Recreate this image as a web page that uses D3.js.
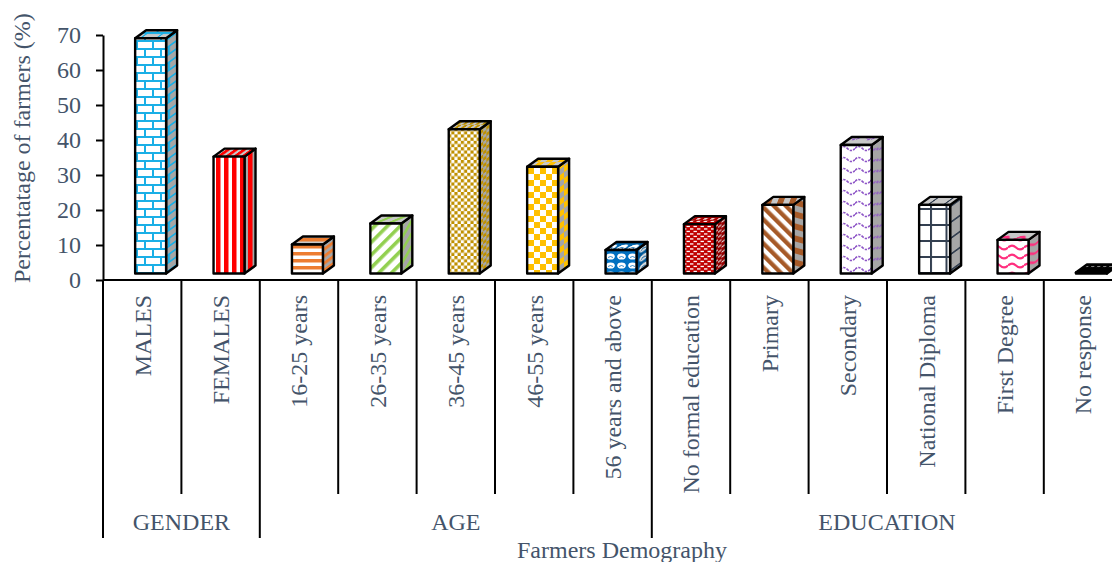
<!DOCTYPE html>
<html>
<head>
<meta charset="utf-8">
<script src="https://cdn.jsdelivr.net/npm/d3@7"></script>
<style>
  html, body { margin: 0; padding: 0; background: #fff; overflow: hidden; }
  svg { display: block; }
</style>
</head>
<body>
<svg id="chart" width="1112" height="562"></svg>
<script>
// ---- data ----
const categories = [
  "MALES", "FEMALES",
  "16-25 years", "26-35 years", "36-45 years", "46-55 years", "56 years and above",
  "No formal education", "Primary", "Secondary", "National Diploma", "First Degree", "No response"
];
const values = [67.2, 33.4, 8.3, 14.3, 41.2, 30.5, 6.7, 14.1, 19.6, 36.7, 19.6, 9.6, 0.3];
const groups = ["GENDER", "AGE", "EDUCATION"];
const groupSizes = [2, 5, 6];
const yTicks = [0, 10, 20, 30, 40, 50, 60, 70];
const yTitle = "Percentatage of farmers (%)";
const xTitle = "Farmers Demography";

// ---- fill styles, one per category ----
const fills = [
  { kind: "brick",      fg: "#1AAFE6", bg: "#ffffff" },
  { kind: "vstripes",   fg: "#FF0000", bg: "#ffffff" },
  { kind: "hstripes",   fg: "#ED7D31", bg: "#ffffff" },
  { kind: "updiag",     fg: "#92D050", bg: "#ffffff" },
  { kind: "checkSmall", fg: "#BF9000", bg: "#ffffff" },
  { kind: "checkLarge", fg: "#FFC000", bg: "#ffffff" },
  { kind: "sphere",     fg: "#ffffff", bg: "#0070C0" },
  { kind: "dashes",     fg: "#ffffff", bg: "#C00000" },
  { kind: "downdiag",   fg: "#A65A28", bg: "#ffffff" },
  { kind: "waveThin",   fg: "#8E56C7", bg: "#ffffff" },
  { kind: "grid",       fg: "#333F50", bg: "#ffffff" },
  { kind: "waveThick",  fg: "#FF2E7E", bg: "#ffffff" },
  { kind: "solid",      fg: "#000000", bg: "#000000" }
];

const FONT = "'Liberation Serif', 'Times New Roman', serif";
const TEXT = "#44546A";
const FS = 24;

const svg = d3.select("#chart");
const defs = svg.append("defs");

// ---- scales ----
const bandW = 78.4;
const x = d3.scaleBand().domain(categories).range([103, 103 + categories.length * bandW]).padding(0);
const y = d3.scaleLinear().domain([0, 70]).range([280, 35]);

// 3-D box geometry
const depthX = 11, depthY = 8, lift = 6.5;

// ---- pattern factory ----
function faceColors(f, face) {
  if (face === "front") return { fg: f.fg, bg: f.bg };
  const white = f.bg.toLowerCase() === "#ffffff";
  if (face === "side") {
    return { fg: white ? f.fg : d3.color(f.fg).darker(0.4).formatHex(),
             bg: white ? "#A6A6A6" : d3.color(f.bg).darker(0.7).formatHex() };
  }
  return { fg: f.fg, bg: white ? "#C8C8C8" : d3.color(f.bg).darker(0.3).formatHex() };
}

function makePattern(id, f, face) {
  const c = faceColors(f, face);
  const skew = face === "side" ? "skewY(-36) " : face === "top" ? "skewX(-54) " : "";
  let w = 8, h = 8, rot = "";
  const p = defs.append("pattern").attr("id", id).attr("patternUnits", "userSpaceOnUse");
  switch (f.kind) {
    case "brick": w = 16; h = 16; break;
    case "vstripes": w = 8; h = 8; break;
    case "hstripes": w = 7; h = 7; break;
    case "updiag": w = 9; h = 9; rot = "rotate(45)"; break;
    case "downdiag": w = 8.5; h = 8.5; rot = "rotate(-45)"; break;
    case "checkSmall": w = 6.4; h = 6.4; break;
    case "checkLarge": w = 12; h = 12; break;
    case "sphere": w = 11; h = 9; break;
    case "dashes": w = 7; h = 5; break;
    case "waveThin": w = 15; h = 11; break;
    case "waveThick": w = 16; h = 9; break;
    case "grid": w = 15.5; h = 16; break;
    default: w = 6; h = 6;
  }
  p.attr("width", w).attr("height", h);
  const tf = (skew + rot).trim();
  if (tf) p.attr("patternTransform", tf);
  p.append("rect").attr("width", w).attr("height", h).attr("fill", c.bg);
  switch (f.kind) {
    case "brick":
      p.append("path").attr("d", "M0 1H16M0 9H16M1 1V9M9 9V16")
        .attr("stroke", c.fg).attr("stroke-width", 2).attr("fill", "none");
      break;
    case "vstripes":
      p.append("rect").attr("x", 0).attr("width", 4.5).attr("height", h).attr("fill", c.fg);
      break;
    case "hstripes":
      p.append("rect").attr("y", 0).attr("width", w).attr("height", 3.5).attr("fill", c.fg);
      break;
    case "updiag":
      p.append("rect").attr("width", 3.6).attr("height", h).attr("fill", c.fg);
      break;
    case "downdiag":
      p.append("rect").attr("width", 4.3).attr("height", h).attr("fill", c.fg);
      break;
    case "checkSmall":
    case "checkLarge":
      p.append("rect").attr("width", w / 2).attr("height", h / 2).attr("fill", c.fg);
      p.append("rect").attr("x", w / 2).attr("y", h / 2).attr("width", w / 2).attr("height", h / 2).attr("fill", c.fg);
      break;
    case "sphere":
      p.append("ellipse").attr("cx", 5.5).attr("cy", 4.5).attr("rx", 4.3).attr("ry", 3.1).attr("fill", c.fg);
      p.append("path").attr("d", "M3 5.5 Q5.5 3.5 8 5.5")
        .attr("stroke", c.bg).attr("stroke-width", 0.8).attr("fill", "none");
      break;
    case "dashes":
      p.append("rect").attr("x", 0.5).attr("y", 0.8).attr("width", 3.4).attr("height", 1.3).attr("fill", c.fg);
      p.append("rect").attr("x", 4).attr("y", 3.3).attr("width", 3.4).attr("height", 1.3).attr("fill", c.fg);
      p.append("rect").attr("x", -3).attr("y", 3.3).attr("width", 3.4).attr("height", 1.3).attr("fill", c.fg);
      break;
    case "waveThin":
      p.append("path").attr("d", "M0 5.5 Q3.75 1.5 7.5 5.5 T15 5.5")
        .attr("stroke", c.fg).attr("stroke-width", 1.7).attr("fill", "none")
        .attr("stroke-dasharray", "2.5 1.2");
      break;
    case "waveThick":
      p.append("path").attr("d", "M0 4.5 Q4 0.8 8 4.5 T16 4.5")
        .attr("stroke", c.fg).attr("stroke-width", 2.2).attr("fill", "none");
      break;
    case "grid":
      p.append("path").attr("d", `M1 0V${h}M0 1H${w}`)
        .attr("stroke", c.fg).attr("stroke-width", 2).attr("fill", "none");
      break;
    case "solid":
      if (face === "top") {
        p.append("path").attr("d", "M0 3 Q1.5 1.5 3 3")
          .attr("stroke", "#8A8A8A").attr("stroke-width", 1).attr("fill", "none");
      }
      break;
  }
  return `url(#${id})`;
}

// ---- axes ----
const yAxis = d3.axisLeft(y).tickValues(yTicks).tickSize(7).tickSizeOuter(0).tickPadding(15);
const yg = svg.append("g").attr("transform", "translate(103,0)").call(yAxis);
yg.select(".domain").attr("stroke", "#000").attr("stroke-width", 2);
yg.selectAll(".tick line").attr("stroke", "#000").attr("stroke-width", 2);
yg.selectAll(".tick text")
  .attr("font-family", FONT).attr("font-size", FS).attr("fill", TEXT);

// horizontal axis line
svg.append("line")
  .attr("x1", x.range()[0]).attr("x2", x.range()[1])
  .attr("y1", y(0)).attr("y2", y(0))
  .attr("stroke", "#000").attr("stroke-width", 2);

// divider lines between categories; group edges run deeper
const groupEdges = new Set([0]);
let acc = 0;
groupSizes.forEach(s => { acc += s; groupEdges.add(acc); });
d3.range(categories.length + 1).forEach(i => {
  const bx = x.range()[0] + i * x.bandwidth();
  svg.append("line")
    .attr("x1", bx).attr("x2", bx)
    .attr("y1", y(0)).attr("y2", groupEdges.has(i) ? 538 : 494)
    .attr("stroke", "#000").attr("stroke-width", 2);
});

// ---- 3-D bars ----
const barG = svg.append("g");
categories.forEach((c, i) => {
  const v = values[i];
  const f = fills[i];
  const fl = x(c) + x.bandwidth() * 0.41;
  const fr = fl + x.bandwidth() * 0.395;
  const ft = y(v) - lift;
  const fb = y(0) - lift;
  const g = barG.append("g");
  const poly = (pts, fill) => g.append("polygon")
    .attr("points", pts.map(p => p.join(",")).join(" "))
    .attr("fill", fill)
    .attr("stroke", "#000").attr("stroke-width", 2.4).attr("stroke-linejoin", "round");
  poly([[fr, ft], [fr + depthX, ft - depthY], [fr + depthX, fb - depthY], [fr, fb]], makePattern(`p${i}s`, f, "side"));
  poly([[fl, ft], [fl + depthX, ft - depthY], [fr + depthX, ft - depthY], [fr, ft]], makePattern(`p${i}t`, f, "top"));
  poly([[fl, ft], [fr, ft], [fr, fb], [fl, fb]], makePattern(`p${i}f`, f, "front"));
});

// ---- category labels ----
categories.forEach(c => {
  const cx = x(c) + x.bandwidth() / 2;
  svg.append("text")
    .attr("transform", `translate(${cx},295) rotate(-90)`)
    .attr("text-anchor", "end").attr("dy", "0.35em")
    .attr("font-family", FONT).attr("font-size", FS).attr("fill", TEXT)
    .text(c);
});

// ---- group labels ----
let start = 0;
groups.forEach((gname, gi) => {
  const first = categories[start];
  const last = categories[start + groupSizes[gi] - 1];
  const cx = (x(first) + x(last) + x.bandwidth()) / 2;
  svg.append("text")
    .attr("x", cx).attr("y", 522).attr("dy", "0.35em")
    .attr("text-anchor", "middle")
    .attr("font-family", FONT).attr("font-size", FS).attr("fill", TEXT)
    .text(gname);
  start += groupSizes[gi];
});

// ---- axis titles ----
svg.append("text")
  .attr("x", 622).attr("y", 558).attr("text-anchor", "middle")
  .attr("font-family", FONT).attr("font-size", FS).attr("fill", TEXT)
  .text(xTitle);

svg.append("text")
  .attr("transform", "translate(22,283) rotate(-90)")
  .attr("text-anchor", "start").attr("dy", "0.35em")
  .attr("font-family", FONT).attr("font-size", FS).attr("fill", TEXT)
  .text(yTitle);
</script>
</body>
</html>
